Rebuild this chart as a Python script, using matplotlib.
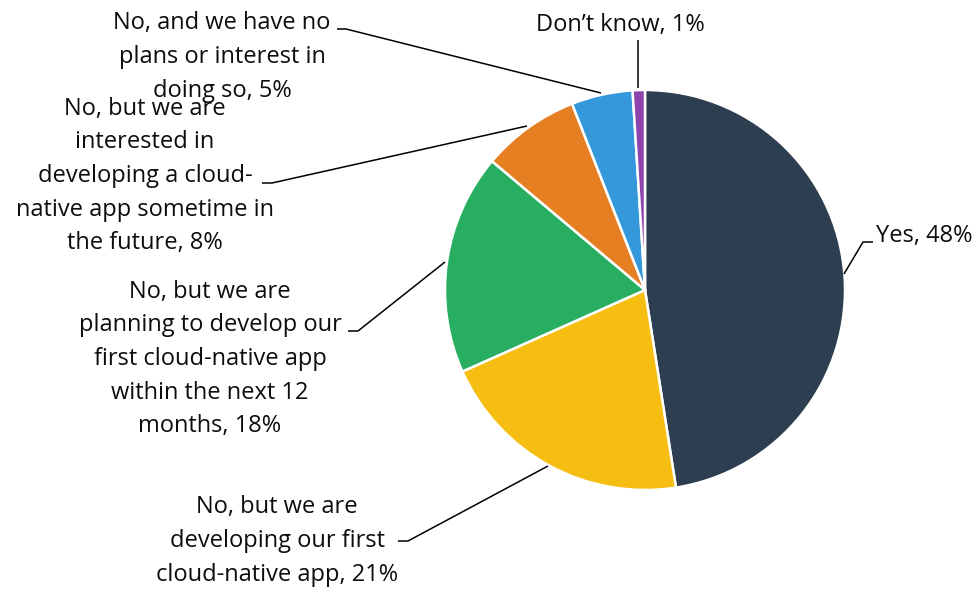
import matplotlib
matplotlib.use("Agg")
import matplotlib.pyplot as plt

# Survey responses: does the organisation have a cloud-native app?
categories = [
    "Yes",
    "No, but we are\ndeveloping our first\ncloud-native app",
    "No, but we are\nplanning to develop our\nfirst cloud-native app\nwithin the next 12\nmonths",
    "No, but we are\ninterested in\ndeveloping a cloud-\nnative app sometime in\nthe future",
    "No, and we have no\nplans or interest in\ndoing so",
    "Don\u2019t know",
]
shares = [48, 21, 18, 8, 5, 1]
colors = ["#2C3E50", "#F6BE13", "#27AE60", "#E67E22", "#3498DB", "#8E44AD"]

W, H = 978, 589
CX, CY, R = 645, 290, 200  # pie centre and radius in figure pixels


def px(x, y):
    """Figure pixel position -> data coordinates (pie of radius 1 at origin)."""
    return (x - CX) / R, (CY - y) / R


# label layout: text anchor (pixels), alignment, leader polyline (pixels)
label_layout = [
    dict(pos=(876, 236), ha="left", path=[(844, 274), (863, 242), (873, 242)]),
    dict(pos=(277, 541), ha="center", path=[(548, 466), (408, 541), (398, 541)]),
    dict(pos=(210, 359), ha="center", path=[(445, 262), (358, 331), (348, 331)]),
    dict(pos=(145, 176), ha="center", path=[(527, 126), (272, 183), (262, 183)]),
    dict(pos=(222, 57), ha="center", path=[(601, 93), (346, 29), (337, 29)]),
    dict(pos=(620, 25), ha="center", path=[(638, 88), (638, 40)]),
]

plt.rcParams["font.family"] = ["Open Sans", "DejaVu Sans"]

fig = plt.figure(figsize=(W / 100, H / 100), dpi=100)
ax = fig.add_axes([0, 0, 1, 1])

ax.pie(shares, colors=colors, startangle=90, counterclock=False, radius=1,
       center=(0, 0), frame=True,
       wedgeprops=dict(edgecolor="white", linewidth=1.8))
ax.set_xlim(px(0, 0)[0], px(W, 0)[0])
ax.set_ylim(px(0, H)[1], px(0, 0)[1])
ax.set_aspect("auto")
ax.axis("off")

for name, val, lay in zip(categories, shares, label_layout):
    xs, ys = zip(*[px(*p) for p in lay["path"]])
    ax.plot(xs, ys, color="black", lw=1.1, solid_capstyle="butt")
    tx, ty = px(*lay["pos"])
    ax.text(tx, ty, f"{name}, {val}%", ha=lay["ha"], va="center",
            multialignment="center", fontsize=17, color="#0d0d0d",
            linespacing=1.54)

fig.savefig("out.png", dpi=100)
